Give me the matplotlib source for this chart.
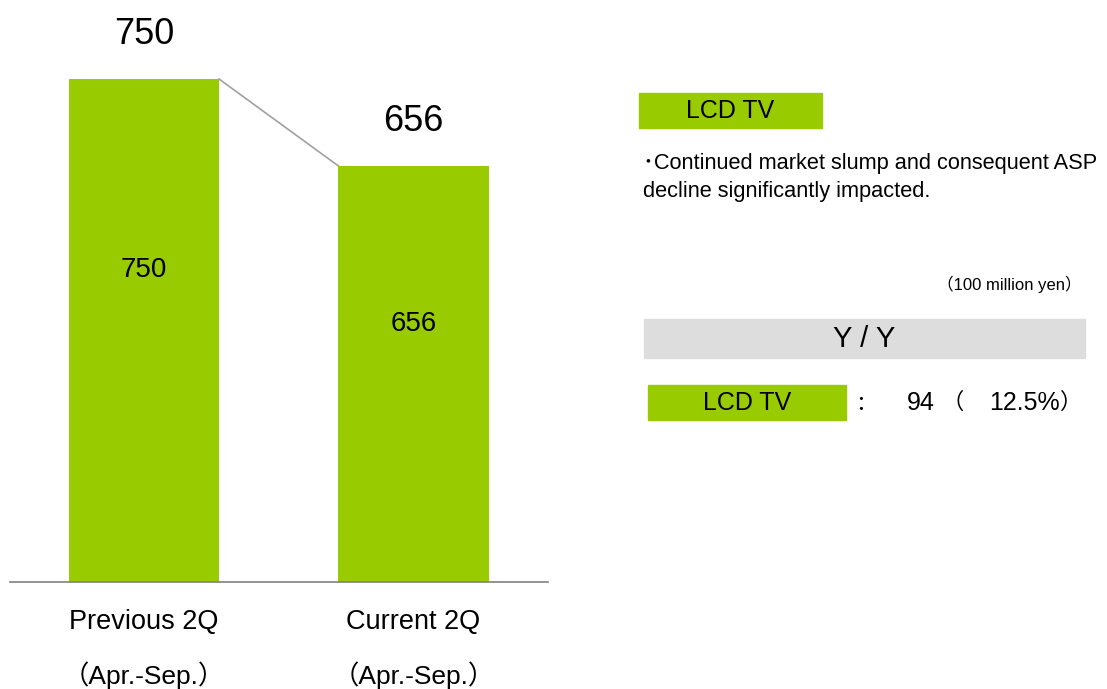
import matplotlib.pyplot as plt
from matplotlib.patches import Rectangle

plt.rcParams['font.family'] = ['Liberation Sans', 'Noto Sans CJK JP']

# net sales, 100 million yen
periods = ['Previous 2Q', 'Current 2Q']
period_notes = ['（Apr.-Sep.）', '（Apr.-Sep.）']
sales = [750, 656]
segment = 'LCD TV'
comment_lines = ['･Continued market slump and consequent ASP', 'decline significantly impacted.']
yoy_change = 94
yoy_pct = '12.5%'

green = '#99CC00'
W, H = 1107, 689

fig = plt.figure(figsize=(W / 100, H / 100), dpi=100)

# bar panel, placed in pixel terms of the figure
left, right, base, top = 10, 548, 582, 79
y_floor = 206.5
ax = fig.add_axes([left / W, (H - base) / H, (right - left) / W, (base - top) / H])
x = list(range(len(sales)))
bars = ax.bar(x, sales, width=0.557, color=green, zorder=2)
ax.set_xlim(-0.497, 1.499)
ax.set_ylim(y_floor, max(sales))
for s in ['left', 'right', 'top']:
    ax.spines[s].set_visible(False)
ax.spines['bottom'].set_color('#808080')
ax.spines['bottom'].set_linewidth(1.2)
ax.set_xticks([])
ax.set_yticks([])
ax.patch.set_alpha(0)

# connector between bar tops
b0, b1 = bars[0], bars[1]
ax.plot([b0.get_x() + b0.get_width(), b1.get_x()], [sales[0], sales[1]],
        color='#A0A0A0', lw=1.2, zorder=1, clip_on=False)

for i, v in enumerate(sales):
    ax.annotate(str(v), (i, v), xytext=(0, 32), textcoords='offset points',
                ha='center', va='center', fontsize=26)
    ax.text(i, y_floor + 0.62 * (v - y_floor), str(v),
            ha='center', va='center', fontsize=20)

# overlay in pixel coordinates for labels and the side panel
ov = fig.add_axes([0, 0, 1, 1])
ov.set_xlim(0, W)
ov.set_ylim(H, 0)
ov.axis('off')
ov.patch.set_alpha(0)

centers = [144, 413.5]
for cx, name, note in zip(centers, periods, period_notes):
    ov.text(cx, 622, name, ha='center', va='center', fontsize=19.5)
    ov.text(cx, 675, note, ha='center', va='center', fontsize=19)

ov.add_patch(Rectangle((639, 93), 183, 35, color=green))
ov.text(730, 111, segment, ha='center', va='center', fontsize=18)
ov.text(643, 164, comment_lines[0], ha='left', va='center', fontsize=15.7)
ov.text(643, 191, comment_lines[1], ha='left', va='center', fontsize=15.7)

ov.text(1082, 284, '（100 million yen）', ha='right', va='center', fontsize=12)

ov.add_patch(Rectangle((644, 319), 441, 39, color='#DDDDDD'))
ov.text(864, 339, 'Y / Y', ha='center', va='center', fontsize=21)

ov.add_patch(Rectangle((648, 385), 198, 35, color=green))
ov.text(747, 403, segment, ha='center', va='center', fontsize=18)
ov.text(861, 405, '：', ha='center', va='center', fontsize=15)
ov.text(935, 403, str(yoy_change), ha='right', va='center', fontsize=18)
ov.text(953, 403, '（', ha='center', va='center', fontsize=16)
ov.text(1060, 403, yoy_pct, ha='right', va='center', fontsize=18)
ov.text(1060, 403, '）', ha='left', va='center', fontsize=16)

fig.savefig('out.png', dpi=100)
